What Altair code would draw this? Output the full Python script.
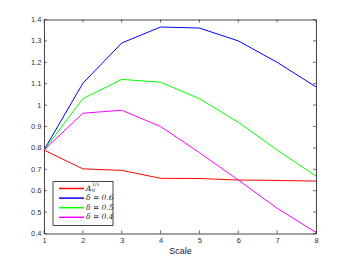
import altair as alt
import pandas as pd

scale = [1, 2, 3, 4, 5, 6, 7, 8]
series_names = ["A_N^1/5", "δ = 0.6", "δ = 0.5", "δ = 0.4"]
legend_labels = ["A", "δ = 0.6", "δ = 0.5", "δ = 0.4"]
series_colors = ["#ff0000", "#0000ff", "#00ff00", "#ff00ff"]
a_n = [0.79, 0.702, 0.695, 0.658, 0.657, 0.650, 0.648, 0.645]
d06 = [0.79, 1.102, 1.290, 1.365, 1.360, 1.300, 1.200, 1.085]
d05 = [0.79, 1.030, 1.120, 1.107, 1.030, 0.920, 0.790, 0.668]
d04 = [0.79, 0.962, 0.976, 0.900, 0.778, 0.650, 0.518, 0.405]
x_ticks = [1, 2, 3, 4, 5, 6, 7, 8]
y_ticks = [0.4, 0.5, 0.6, 0.7, 0.8, 0.9, 1.0, 1.1, 1.2, 1.3, 1.4]

W, H = 272, 214
rows = []
for name, vals in zip(series_names, [a_n, d06, d05, d04]):
    for s, v in zip(scale, vals):
        rows.append({"Scale": s, "value": v, "series": name})
df = pd.DataFrame(rows)

xs = alt.Scale(domain=[1, 8], nice=False, zero=False)
ys = alt.Scale(domain=[0.4, 1.4], nice=False, zero=False)
cs = alt.Scale(domain=series_names, range=series_colors)
axis_common = dict(labelFont="Liberation Sans", labelFontSize=7.5, labelColor="#333",
                   tickSize=0, domain=False, grid=False, labelPadding=3, labelOverlap=False,
                   labelBound=False, labelFlush=False)
x_axis = alt.Axis(values=x_ticks, format="d", title="Scale", titleFont="Liberation Sans",
                  titleFontSize=9, titleFontWeight="normal", titleColor="#222",
                  titlePadding=2, **axis_common)
y_axis = alt.Axis(values=y_ticks, labelExpr="datum.value == 1 ? '1' : format(datum.value, '.1f')",
                  title=None, minExtent=30, maxExtent=30, **axis_common)

lines = alt.Chart(df).mark_line(strokeWidth=1, clip=True).encode(
    x=alt.X("Scale:Q", scale=xs, axis=x_axis),
    y=alt.Y("value:Q", scale=ys, axis=y_axis),
    color=alt.Color("series:N", scale=cs, legend=None),
)

xt = pd.DataFrame({"t": x_ticks})
yt = pd.DataFrame({"t": y_ticks})
tick_style = dict(color="#444", strokeWidth=0.8)
xtb = alt.Chart(xt).mark_rule(**tick_style).encode(
    x=alt.X("t:Q", scale=xs, axis=x_axis), y=alt.value(H), y2=alt.value(H - 3))
xtt = alt.Chart(xt).mark_rule(**tick_style).encode(
    x=alt.X("t:Q", scale=xs, axis=x_axis), y=alt.value(0), y2=alt.value(3))
ytl = alt.Chart(yt).mark_rule(**tick_style).encode(
    y=alt.Y("t:Q", scale=ys, axis=y_axis), x=alt.value(0), x2=alt.value(3))
ytr = alt.Chart(yt).mark_rule(**tick_style).encode(
    y=alt.Y("t:Q", scale=ys, axis=y_axis), x=alt.value(W), x2=alt.value(W - 3))

# custom legend (MATLAB style box)
leg = pd.DataFrame({"series": series_names, "label": legend_labels, "i": [0, 1, 2, 3]})
leg_base = alt.Chart(leg).transform_calculate(yp="169 + datum.i * 9.6")
leg_box = alt.Chart(leg.head(1)).mark_rect(fill="white", stroke="#444", strokeWidth=1).encode(
    x=alt.value(9), x2=alt.value(69), y=alt.value(162), y2=alt.value(206))
leg_lines = leg_base.mark_rule(strokeWidth=1.5).encode(
    x=alt.value(15), x2=alt.value(40), y=alt.Y("yp:Q", scale=None),
    color=alt.Color("series:N", scale=cs, legend=None))
leg_text = leg_base.mark_text(align="left", baseline="middle", font="DejaVu Serif",
                              fontStyle="italic", fontSize=7.5, color="#222").encode(
    x=alt.value(42), y=alt.Y("yp:Q", scale=None), text="label:N")
leg_sub = alt.Chart(leg.head(1)).mark_text(align="left", baseline="middle", font="DejaVu Serif",
                                           fontStyle="italic", fontSize=4.5, color="#222").encode(
    x=alt.value(47.5), y=alt.value(171.5), text=alt.value("N"))
leg_sup = alt.Chart(leg.head(1)).mark_text(align="left", baseline="middle", font="DejaVu Serif",
                                           fontSize=4.5, color="#222").encode(
    x=alt.value(48), y=alt.value(165.5), text=alt.value("1/5"))

chart = alt.layer(lines, xtb, xtt, ytl, ytr, leg_box, leg_lines, leg_text, leg_sub, leg_sup).properties(
    width=W, height=H,
    padding={"left": 6, "top": 7.5, "right": 5, "bottom": 5},
    background="white",
).configure_view(stroke="#444", strokeWidth=1)

chart.save("out.html", embed_options={"renderer": "svg", "actions": False})
